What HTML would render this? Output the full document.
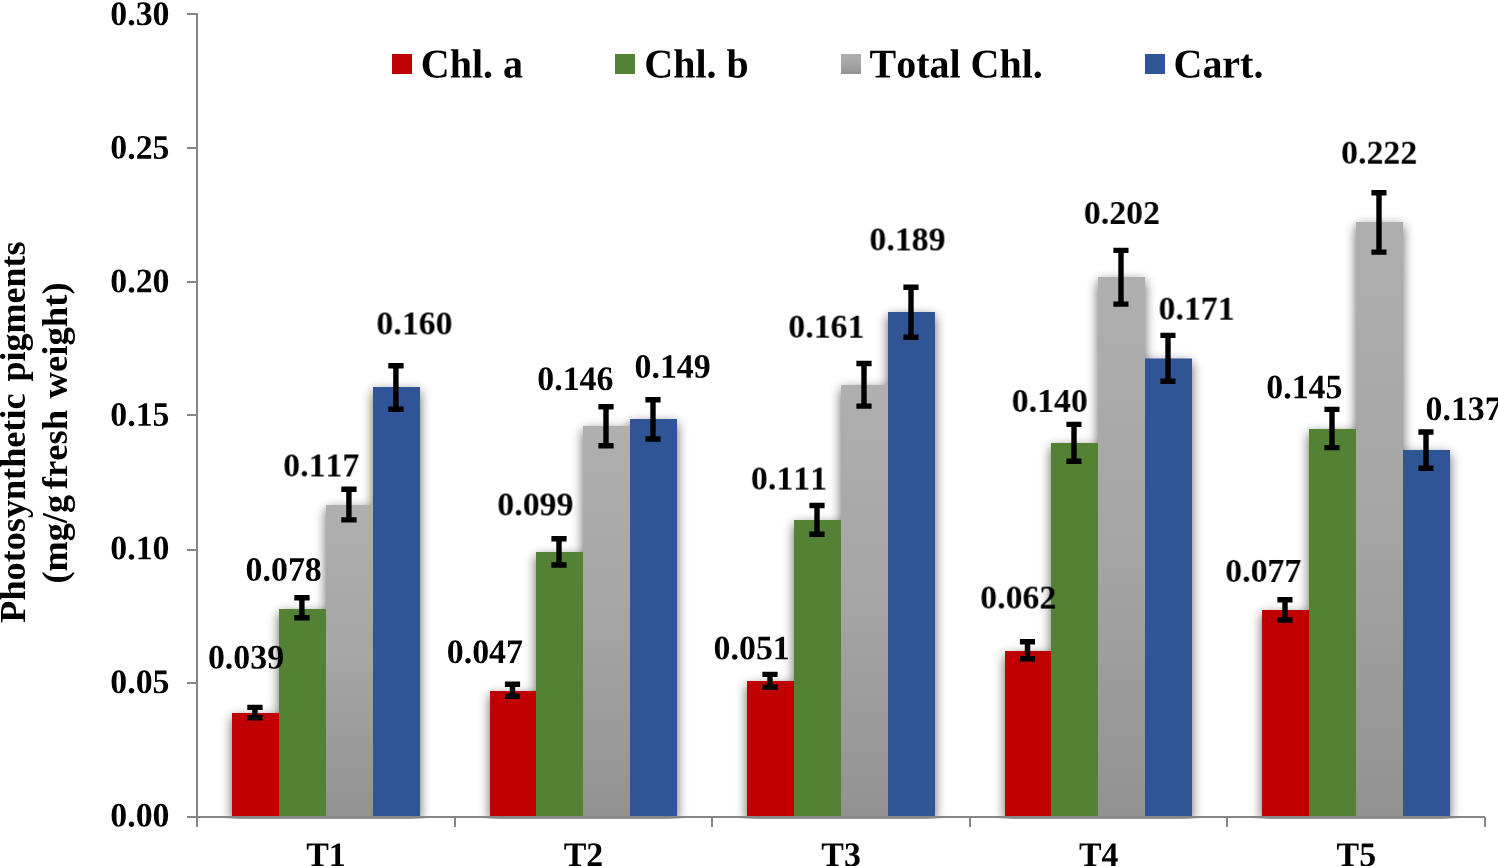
<!DOCTYPE html>
<html><head><meta charset="utf-8"><title>Photosynthetic pigments</title>
<style>html,body{margin:0;padding:0;background:#fff;}body{width:1498px;height:866px;overflow:hidden;}svg{display:block;position:absolute;left:0;top:0;}text{font-family:"Liberation Serif",serif;font-weight:bold;fill:#000;font-kerning:none;}.d{font-size:33.85px;}.l{font-size:40px;}.t{font-size:36.5px;}</style></head><body>
<svg width="1498" height="866" viewBox="0 0 1498 866">
<defs>
<linearGradient id="gg" x1="0" y1="0" x2="0" y2="1"><stop offset="0" stop-color="#AFAFAF"/><stop offset="0.5" stop-color="#A5A5A5"/><stop offset="1" stop-color="#929292"/></linearGradient>
<linearGradient id="gl" x1="0" y1="0" x2="0" y2="1"><stop offset="0" stop-color="#AFAFAF"/><stop offset="0.5" stop-color="#A5A5A5"/><stop offset="1" stop-color="#929292"/></linearGradient>
<filter id="sh" x="-20%" y="-20%" width="140%" height="140%" color-interpolation-filters="sRGB"><feGaussianBlur in="SourceAlpha" stdDeviation="6"/><feOffset dx="0" dy="3.5" result="b"/><feComponentTransfer><feFuncA type="linear" slope="0.62"/></feComponentTransfer></filter>
<clipPath id="pc"><rect x="0" y="0" width="1498" height="818.9"/></clipPath>
</defs>
<rect width="1498" height="866" fill="#fff"/>
<g clip-path="url(#pc)"><g filter="url(#sh)">
<rect x="232" y="713.0" width="47" height="104.0" fill="#000"/>
<rect x="279" y="609.0" width="47" height="208.0" fill="#000"/>
<rect x="326" y="505.0" width="47" height="312.0" fill="#000"/>
<rect x="373" y="387.0" width="47" height="430.0" fill="#000"/>
<rect x="490" y="691.0" width="46" height="126.0" fill="#000"/>
<rect x="536" y="552.0" width="47" height="265.0" fill="#000"/>
<rect x="583" y="426.0" width="47" height="391.0" fill="#000"/>
<rect x="630" y="419.0" width="47" height="398.0" fill="#000"/>
<rect x="747" y="681.0" width="47" height="136.0" fill="#000"/>
<rect x="794" y="520.0" width="47" height="297.0" fill="#000"/>
<rect x="841" y="385.0" width="47" height="432.0" fill="#000"/>
<rect x="888" y="312.0" width="47" height="505.0" fill="#000"/>
<rect x="1005" y="651.0" width="46" height="166.0" fill="#000"/>
<rect x="1051" y="443.0" width="47" height="374.0" fill="#000"/>
<rect x="1098" y="277.0" width="47" height="540.0" fill="#000"/>
<rect x="1145" y="358.5" width="47" height="458.5" fill="#000"/>
<rect x="1262" y="610.0" width="47" height="207.0" fill="#000"/>
<rect x="1309" y="429.0" width="47" height="388.0" fill="#000"/>
<rect x="1356" y="222.0" width="47" height="595.0" fill="#000"/>
<rect x="1403" y="450.0" width="47" height="367.0" fill="#000"/>
</g></g>
<rect x="232" y="713.0" width="47" height="104.0" fill="#C00000"/>
<rect x="279" y="609.0" width="47" height="208.0" fill="#548235"/>
<rect x="326" y="505.0" width="47" height="312.0" fill="url(#gg)"/>
<rect x="373" y="387.0" width="47" height="430.0" fill="#2F5597"/>
<rect x="490" y="691.0" width="46" height="126.0" fill="#C00000"/>
<rect x="536" y="552.0" width="47" height="265.0" fill="#548235"/>
<rect x="583" y="426.0" width="47" height="391.0" fill="url(#gg)"/>
<rect x="630" y="419.0" width="47" height="398.0" fill="#2F5597"/>
<rect x="747" y="681.0" width="47" height="136.0" fill="#C00000"/>
<rect x="794" y="520.0" width="47" height="297.0" fill="#548235"/>
<rect x="841" y="385.0" width="47" height="432.0" fill="url(#gg)"/>
<rect x="888" y="312.0" width="47" height="505.0" fill="#2F5597"/>
<rect x="1005" y="651.0" width="46" height="166.0" fill="#C00000"/>
<rect x="1051" y="443.0" width="47" height="374.0" fill="#548235"/>
<rect x="1098" y="277.0" width="47" height="540.0" fill="url(#gg)"/>
<rect x="1145" y="358.5" width="47" height="458.5" fill="#2F5597"/>
<rect x="1262" y="610.0" width="47" height="207.0" fill="#C00000"/>
<rect x="1309" y="429.0" width="47" height="388.0" fill="#548235"/>
<rect x="1356" y="222.0" width="47" height="595.0" fill="url(#gg)"/>
<rect x="1403" y="450.0" width="47" height="367.0" fill="#2F5597"/>
<g stroke="#868686" stroke-width="2.0" fill="none">
<path d="M197 13V827"/>
<path d="M187 817H1485"/>
<path d="M187 14H197"/>
<path d="M187 148H197"/>
<path d="M187 282H197"/>
<path d="M187 415H197"/>
<path d="M187 550H197"/>
<path d="M187 683H197"/>
<path d="M455 817V827"/>
<path d="M712 817V827"/>
<path d="M970 817V827"/>
<path d="M1227 817V827"/>
<path d="M1485 817V827"/>
</g>
<g stroke="#000" stroke-width="5.4" fill="none">
<path d="M254.9 707.4V717.8M247.3 707.4H262.6M247.3 717.8H262.6"/>
<path d="M301.9 597.7V617.7M294.3 597.7H309.6M294.3 617.7H309.6"/>
<path d="M348.9 489.2V519.9M341.3 489.2H356.6M341.3 519.9H356.6"/>
<path d="M395.9 365.8V409.2M388.3 365.8H403.6M388.3 409.2H403.6"/>
<path d="M512.5 684.2V696.2M504.9 684.2H520.1M504.9 696.2H520.1"/>
<path d="M559.0 538.7V565.0M551.4 538.7H566.6M551.4 565.0H566.6"/>
<path d="M606.0 406.8V445.7M598.4 406.8H613.6M598.4 445.7H613.6"/>
<path d="M653.0 399.8V439.0M645.4 399.8H660.6M645.4 439.0H660.6"/>
<path d="M770.0 674.4V687.2M762.4 674.4H777.6M762.4 687.2H777.6"/>
<path d="M817.0 505.5V534.3M809.4 505.5H824.6M809.4 534.3H824.6"/>
<path d="M864.0 363.5V406.1M856.4 363.5H871.6M856.4 406.1H871.6"/>
<path d="M911.0 287.2V337.3M903.4 287.2H918.6M903.4 337.3H918.6"/>
<path d="M1027.5 641.8V658.7M1019.9 641.8H1035.0M1019.9 658.7H1035.0"/>
<path d="M1074.0 424.4V461.3M1066.4 424.4H1081.5M1066.4 461.3H1081.5"/>
<path d="M1121.0 250.4V304.1M1113.4 250.4H1128.5M1113.4 304.1H1128.5"/>
<path d="M1168.0 335.4V381.2M1160.4 335.4H1175.5M1160.4 381.2H1175.5"/>
<path d="M1285.0 599.8V620.0M1277.4 599.8H1292.5M1277.4 620.0H1292.5"/>
<path d="M1332.0 409.4V447.6M1324.4 409.4H1339.5M1324.4 447.6H1339.5"/>
<path d="M1379.0 192.8V252.1M1371.4 192.8H1386.5M1371.4 252.1H1386.5"/>
<path d="M1426.0 432.0V468.3M1418.4 432.0H1433.5M1418.4 468.3H1433.5"/>
</g>
<g opacity="0.999">
<text class="d" transform="translate(169.50,25.10) rotate(0.05) scale(1,1.012)" text-anchor="end">0.30</text>
<text class="d" transform="translate(169.50,158.67) rotate(0.05) scale(1,1.012)" text-anchor="end">0.25</text>
<text class="d" transform="translate(169.50,292.24) rotate(0.05) scale(1,1.012)" text-anchor="end">0.20</text>
<text class="d" transform="translate(169.50,425.81) rotate(0.05) scale(1,1.012)" text-anchor="end">0.15</text>
<text class="d" transform="translate(169.50,559.38) rotate(0.05) scale(1,1.012)" text-anchor="end">0.10</text>
<text class="d" transform="translate(169.50,692.95) rotate(0.05) scale(1,1.012)" text-anchor="end">0.05</text>
<text class="d" transform="translate(169.50,826.52) rotate(0.05) scale(1,1.012)" text-anchor="end">0.00</text>
<text class="d" transform="translate(207.90,668.40) rotate(0.05) scale(1,1.012)">0.039</text>
<text class="d" transform="translate(245.60,580.80) rotate(0.05) scale(1,1.012)">0.078</text>
<text class="d" transform="translate(283.20,476.80) rotate(0.05) scale(1,1.012)">0.117</text>
<text class="d" transform="translate(376.40,334.80) rotate(0.05) scale(1,1.012)">0.160</text>
<text class="d" transform="translate(446.80,663.00) rotate(0.05) scale(1,1.012)">0.047</text>
<text class="d" transform="translate(497.30,515.80) rotate(0.05) scale(1,1.012)">0.099</text>
<text class="d" transform="translate(537.30,389.90) rotate(0.05) scale(1,1.012)">0.146</text>
<text class="d" transform="translate(634.50,377.80) rotate(0.05) scale(1,1.012)">0.149</text>
<text class="d" transform="translate(713.60,659.30) rotate(0.05) scale(1,1.012)">0.051</text>
<text class="d" transform="translate(750.90,489.90) rotate(0.05) scale(1,1.012)">0.111</text>
<text class="d" transform="translate(788.30,338.00) rotate(0.05) scale(1,1.012)">0.161</text>
<text class="d" transform="translate(869.40,250.80) rotate(0.05) scale(1,1.012)">0.189</text>
<text class="d" transform="translate(980.20,608.90) rotate(0.05) scale(1,1.012)">0.062</text>
<text class="d" transform="translate(1011.70,412.30) rotate(0.05) scale(1,1.012)">0.140</text>
<text class="d" transform="translate(1083.80,224.30) rotate(0.05) scale(1,1.012)">0.202</text>
<text class="d" transform="translate(1158.50,320.00) rotate(0.05) scale(1,1.012)">0.171</text>
<text class="d" transform="translate(1225.20,582.30) rotate(0.05) scale(1,1.012)">0.077</text>
<text class="d" transform="translate(1266.30,398.30) rotate(0.05) scale(1,1.012)">0.145</text>
<text class="d" transform="translate(1341.10,164.05) rotate(0.05) scale(1,1.012)">0.222</text>
<text class="d" transform="translate(1425.50,419.90) rotate(0.05) scale(1,1.012)">0.137</text>
<text class="d" transform="translate(325.90,866.00) rotate(0.05) scale(1,1.012)" text-anchor="middle">T1</text>
<text class="d" transform="translate(583.50,866.00) rotate(0.05) scale(1,1.012)" text-anchor="middle">T2</text>
<text class="d" transform="translate(841.10,866.00) rotate(0.05) scale(1,1.012)" text-anchor="middle">T3</text>
<text class="d" transform="translate(1098.70,866.00) rotate(0.05) scale(1,1.012)" text-anchor="middle">T4</text>
<text class="d" transform="translate(1356.30,866.00) rotate(0.05) scale(1,1.012)" text-anchor="middle">T5</text>
<rect x="392" y="54" width="20" height="20" fill="#C00000"/>
<text class="l" transform="translate(420.80,77.45) rotate(0.05) scale(1,1.02)">Chl. a</text>
<rect x="615" y="54" width="20" height="20" fill="#548235"/>
<text class="l" transform="translate(644.30,77.45) rotate(0.05) scale(1,1.02)">Chl. b</text>
<rect x="841" y="54" width="20" height="20" fill="url(#gl)"/>
<text class="l" transform="translate(869.50,77.45) rotate(0.05) scale(1,1.02)">Total Chl.</text>
<rect x="1145" y="54" width="20" height="20" fill="#2F5597"/>
<text class="l" transform="translate(1173.50,77.45) rotate(0.05) scale(1,1.02)">Cart.</text>
<text class="t" transform="translate(24.90,622.70) rotate(-90) scale(0.992,1)">Photosynthetic</text>
<text class="t" transform="translate(24.90,381.46) rotate(-90) scale(0.987,1)">pigments</text>
<text class="t" transform="translate(66.50,583.50) rotate(-90) scale(0.993,1)">(mg/g</text>
<text class="t" transform="translate(66.50,489.20) rotate(-90) scale(1.003,1)">fresh</text>
<text class="t" transform="translate(66.50,398.56) rotate(-90) scale(1.0066,1)">weight)</text>
</g>
</svg></body></html>
